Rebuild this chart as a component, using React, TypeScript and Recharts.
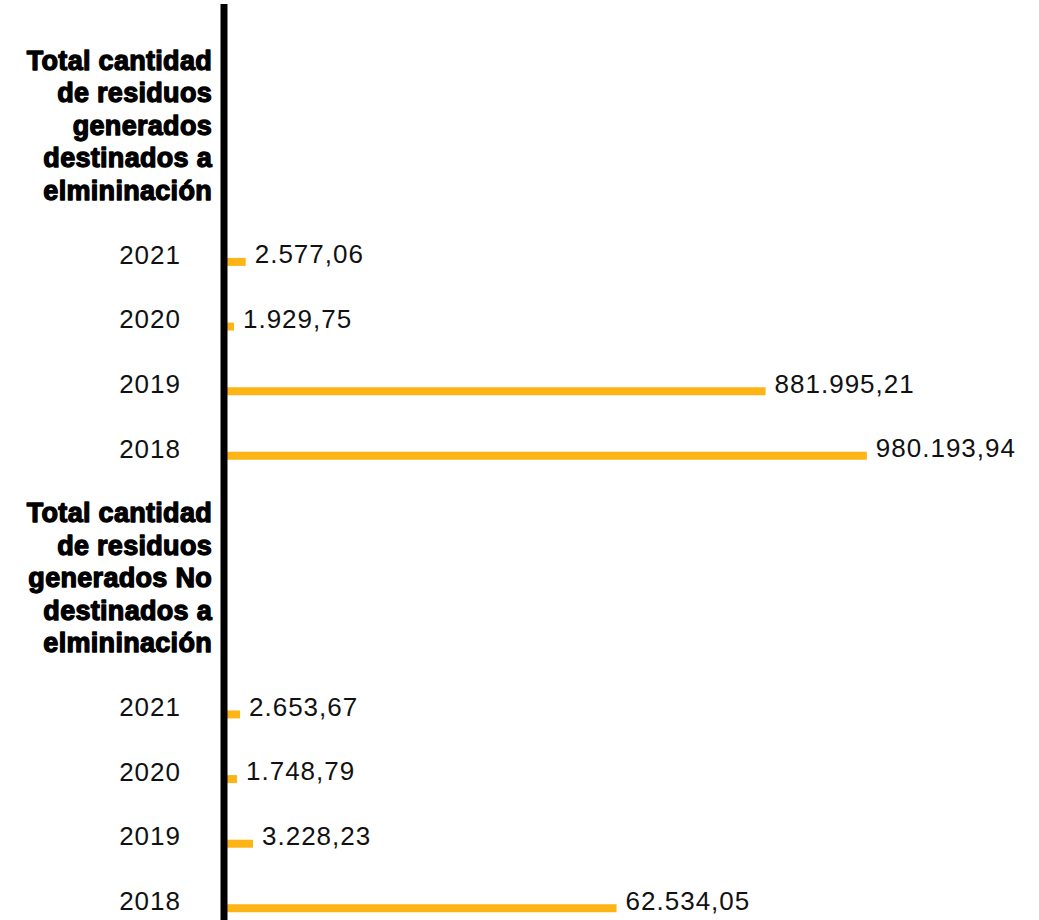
import React from "react";
import { BarChart, Bar, XAxis, YAxis, LabelList } from "recharts";

const years = ["2021", "2020", "2019", "2018"];

const titleDest = ["Total cantidad", "de residuos", "generados", "destinados a", "elmininación"];
const titleNoDest = ["Total cantidad", "de residuos", "generados No", "destinados a", "elmininación"];

// bar lengths as drawn in the picture (they don't follow the printed numbers)
const barsDest = [33100, 15200, 825800, 980194];
const barsNoDest = [24400, 19800, 44200, 598600];

// printed values
const labelsDest = ["2.577,06", "1.929,75", "881.995,21", "980.193,94"];
const labelsNoDest = ["2.653,67", "1.748,79", "3.228,23", "62.534,05"];

const ORANGE = "#FDB515";
const FONT = "'Liberation Sans', Arial, sans-serif";

type Row = {
  key: string;
  kind: "gap" | "title" | "year";
  lines?: string[];
  year?: string;
  value: number | null;
  label?: string;
};

function groupRows(id: string, title: string[], bars: number[], labels: string[]): Row[] {
  return [
    { key: id + "-gap1", kind: "gap", value: null },
    { key: id + "-title", kind: "title", lines: title, value: null },
    { key: id + "-gap2", kind: "gap", value: null },
    ...years.map((y, i) => ({
      key: `${id}-${y}`,
      kind: "year" as const,
      year: y,
      value: bars[i],
      label: labels[i],
    })),
  ];
}

const rows: Row[] = [
  ...groupRows("dest", titleDest, barsDest, labelsDest),
  ...groupRows("nodest", titleNoDest, barsNoDest, labelsNoDest),
];

// labels sit a little above the bar centre, like in the original
const LIFT = 8;

const Tick = (props: any) => {
  const { x, y, payload } = props;
  const row = rows.find((r) => r.key === payload.value);
  if (!row || row.kind === "gap") return null;
  const cy = y - LIFT;
  if (row.kind === "title") {
    return (
      <text
        textAnchor="end"
        fontFamily={FONT}
        fontWeight={700}
        fontSize={27}
        letterSpacing={0.3}
        fill="#000"
        stroke="#000"
        strokeWidth={1.3}
        strokeLinejoin="round"
      >
        {row.lines!.map((l, i) => (
          <tspan key={i} x={x} y={cy + (i - 2) * 32.5} dy="0.36em">
            {l}
          </tspan>
        ))}
      </text>
    );
  }
  return (
    <text
      x={x - 31}
      y={cy}
      dy="0.36em"
      textAnchor="end"
      fontFamily={FONT}
      fontSize={26}
      letterSpacing={1}
      fill="#111"
    >
      {row.year}
    </text>
  );
};

const ValueLabel = (props: any) => {
  const { x, y, width, height, value } = props;
  if (value == null || value === "") return null;
  return (
    <text
      x={Number(x) + Number(width) + 9}
      y={Number(y) + Number(height) / 2 - LIFT}
      dy="0.36em"
      fontFamily={FONT}
      fontSize={26}
      letterSpacing={1}
      fill="#111"
    >
      {value}
    </text>
  );
};

export default function App() {
  return (
    <div
      style={{
        position: "fixed",
        left: 0,
        top: 0,
        width: 1039,
        height: 920,
        overflow: "hidden",
        background: "#fff",
      }}
    >
      <BarChart
        width={1039}
        height={960}
        data={rows}
        layout="vertical"
        margin={{ top: 4, right: 28, bottom: 19, left: 0 }}
        barCategoryGap={0}
      >
        <XAxis type="number" hide domain={[0, 1200000]} />
        <Bar dataKey="value" fill={ORANGE} barSize={8} isAnimationActive={false}>
          <LabelList dataKey="label" content={<ValueLabel />} />
        </Bar>
        <YAxis
          type="category"
          dataKey="key"
          width={224}
          interval={0}
          tickLine={false}
          tickSize={0}
          tickMargin={12}
          axisLine={{ stroke: "#000", strokeWidth: 7 }}
          tick={<Tick />}
          padding={{ top: 32, bottom: 0 }}
        />
      </BarChart>
    </div>
  );
}
